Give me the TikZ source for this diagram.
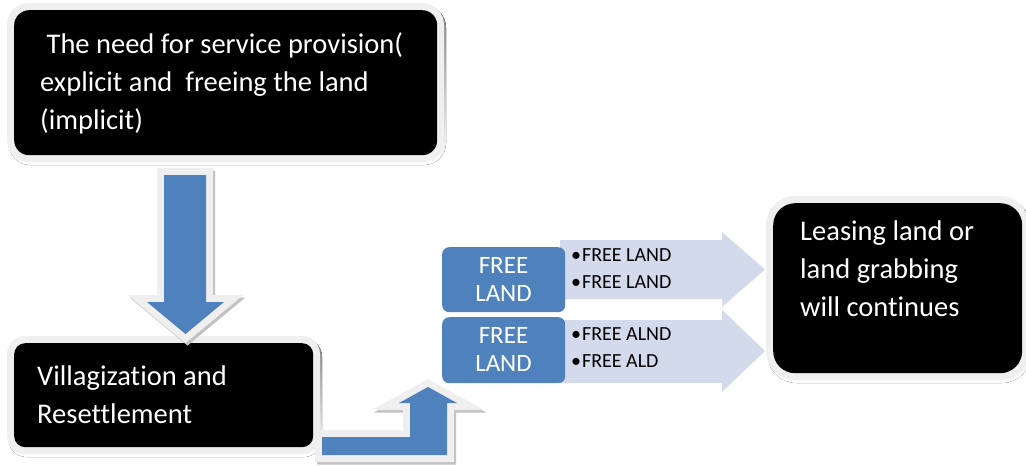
\documentclass[tikz,border=0pt]{standalone}
\usepackage{fontspec}
\setmainfont{Carlito}[Ligatures=NoCommon]
\definecolor{boxblue}{HTML}{4F81BD}
\definecolor{halo}{HTML}{EFEFEF}
\definecolor{shade}{HTML}{C2C2C2}
\definecolor{pale}{HTML}{D3DAEB}
% stacked lines whose baseline is the first line's baseline
\newcommand\linesL[1]{\vtop{\halign{##\hfil\cr#1\crcr}}}
\newcommand\linesC[1]{\vtop{\halign{\hfil##\hfil\cr#1\crcr}}}
\begin{document}
\begin{tikzpicture}[x=1pt,y=-1pt,
  darkbox/.style={fill=black, draw=none, inner sep=0pt, anchor=north west},
  bluebox/.style={fill=boxblue, draw=none, inner sep=0pt, anchor=north west, rounded corners=7pt},
  wtext/.style={text=white, inner sep=0pt, anchor=base west, font=\fontsize{28.5}{38}\selectfont},
  ftext/.style={text=white, inner sep=0pt, anchor=base, font=\fontsize{25}{28}\selectfont},
  btext/.style={text=black, inner sep=0pt, anchor=base west, font=\fontsize{20}{27}\selectfont},
  haloline/.style={draw=halo, line width=14pt, line join=miter},
  shadeline/.style={draw=shade, line width=14pt, line join=miter},
  blockarrow/.style={fill=boxblue, draw=none},
  palearrow/.style={fill=pale, draw=none}]
\useasboundingbox (0,0) rectangle (1026,466);
\clip (0,0) rectangle (1026,466);

% framed black boxes: shadow, light rim, black body
\fill[shade, rounded corners=22pt] (8.5,5.5) rectangle (446,165);
\fill[halo, rounded corners=22pt] (7,3) rectangle (444,162);
\node[darkbox, rounded corners=15pt, minimum width=423pt, minimum height=145pt] (need) at (14,10) {};

\fill[shade, rounded corners=18pt] (8.5,338.5) rectangle (322,457);
\fill[halo, rounded corners=18pt] (7,336) rectangle (320,454);
\node[darkbox, rounded corners=11pt, minimum width=299pt, minimum height=104pt] (vill) at (14,343) {};

\fill[shade, rounded corners=29pt] (767.5,198.5) rectangle (1031,383);
\fill[halo, rounded corners=29pt] (766,196) rectangle (1029,380);
\node[darkbox, rounded corners=22pt, minimum width=249pt, minimum height=170pt] (lease) at (773,203) {};

% pale arrows carrying the bullet lists
\path[palearrow] (560,240) -- (722,240) -- (722,232) -- (765,269.5) -- (722,307) -- (722,299) -- (560,299) -- cycle;
\path[palearrow] (560,320) -- (722,320) -- (722,310) -- (765,351) -- (722,392) -- (722,383) -- (560,383) -- cycle;

% blue label boxes
\node[bluebox, minimum width=123pt, minimum height=65pt] (free1) at (442,247) {};
\node[bluebox, minimum width=123pt, minimum height=66pt] (free2) at (442,317) {};

% downward block arrow
\path[shadeline, shift={(2,2.5)}] (164,175) -- (206,175) -- (206,302) -- (224,302) -- (185.5,334) -- (147,302) -- (164,302) -- cycle;
\path[haloline] (164,175) -- (206,175) -- (206,302) -- (224,302) -- (185.5,334) -- (147,302) -- (164,302) -- cycle;
\path[blockarrow] (164,175) -- (206,175) -- (206,302) -- (224,302) -- (185.5,334) -- (147,302) -- (164,302) -- cycle;

% bent block arrow
\path[shadeline, shift={(2,2.5)}] (322,437) -- (410,437) -- (410,403) -- (399,403) -- (428,387) -- (457,403) -- (447,403) -- (447,455) -- (322,455) -- cycle;
\path[haloline] (322,437) -- (410,437) -- (410,403) -- (399,403) -- (428,387) -- (457,403) -- (447,403) -- (447,455) -- (322,455) -- cycle;
\path[blockarrow] (322,437) -- (410,437) -- (410,403) -- (399,403) -- (428,387) -- (457,403) -- (447,403) -- (447,455) -- (322,455) -- cycle;

% texts
\node[wtext] (needtxt) at (40,53) {\linesL{\ The need for service provision(\cr explicit and\ \ freeing the land\cr (implicit)}};
\node[wtext] (villtxt) at (37,385) {\linesL{Villagization and\cr Resettlement}};
\node[wtext] (leasetxt) at (800,240) {\linesL{Leasing land or\cr land grabbing\cr will continues}};
\node[ftext] (free1txt) at (503.5,273) {\linesC{FREE\cr LAND}};
\node[ftext] (free2txt) at (503.5,343) {\linesC{FREE\cr LAND}};
\node[btext] (list1) at (571,261) {\linesL{•\kern1pt FREE LAND\cr •\kern1pt FREE LAND}};
\node[btext] (list2) at (571,340) {\linesL{•\kern1pt FREE ALND\cr •\kern1pt FREE ALD}};
\end{tikzpicture}
\end{document}
